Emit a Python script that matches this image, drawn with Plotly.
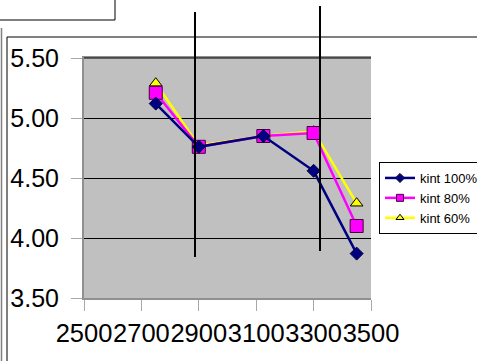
import plotly.graph_objects as go

x_vals = [2750, 2900, 3125, 3300, 3450]
kint100 = [5.12, 4.76, 4.85, 4.56, 3.87]
kint80 = [5.21, 4.76, 4.85, 4.875, 4.10]
kint60 = [5.29, 4.77, 4.85, 4.89, 4.29]

x_ticks = [2500, 2700, 2900, 3100, 3300, 3500]
y_ticks = [3.50, 4.00, 4.50, 5.00, 5.50]

FONT = "Liberation Sans, Arial, sans-serif"

series = [
    ("kint 60%", kint60, "#ffff00", "triangle-up", 11, "#000000"),
    ("kint 80%", kint80, "#ff00ff", "square", 13, "#400040"),
    ("kint 100%", kint100, "#000080", "diamond", 10, "#000040"),
]

fig = go.Figure()
for name, vals, col, sym, size, outline in series:
    fig.add_trace(go.Scatter(
        x=x_vals, y=vals, name=name, mode="lines+markers", showlegend=False,
        line=dict(color=col, width=2.5),
        marker=dict(symbol=sym, size=size, color=col, line=dict(color=outline, width=1)),
    ))
# legend-only entries with small symbols
for name, vals, col, sym, size, outline in series:
    fig.add_trace(go.Scatter(
        x=[None], y=[None], name=name, mode="lines+markers", showlegend=True,
        line=dict(color=col, width=2.5),
        marker=dict(symbol=sym, size=7, color=col, line=dict(color=outline, width=1)),
    ))

L, R, T, B = 84, 371, 58, 298
W, H = 477, 361


def px(xp):
    return (xp - L) / (R - L)


def py(yp):
    return (B - yp) / (B - T)


shapes = []
shapes.append(dict(type="line", xref="paper", yref="paper", x0=0, x1=1, y0=1, y1=1,
                   line=dict(color="black", width=1.2)))
shapes.append(dict(type="line", xref="paper", yref="paper", x0=px(195), x1=px(195),
                   y0=py(12), y1=py(257), line=dict(color="black", width=2)))
shapes.append(dict(type="line", xref="paper", yref="paper", x0=px(320), x1=px(320),
                   y0=py(6), y1=py(251), line=dict(color="black", width=2)))
shapes.append(dict(type="line", xref="paper", yref="paper", x0=px(-2), x1=px(115),
                   y0=py(20), y1=py(20), line=dict(color="black", width=1)))
shapes.append(dict(type="line", xref="paper", yref="paper", x0=px(115), x1=px(115),
                   y0=py(-2), y1=py(20), line=dict(color="black", width=1)))
shapes.append(dict(type="line", xref="paper", yref="paper", x0=px(7), x1=px(480),
                   y0=py(37), y1=py(37), line=dict(color="black", width=1)))
shapes.append(dict(type="line", xref="paper", yref="paper", x0=px(7), x1=px(7),
                   y0=py(37), y1=py(365), line=dict(color="black", width=1)))
shapes.append(dict(type="line", xref="paper", yref="paper", x0=px(1.5), x1=px(1.5),
                   y0=py(28), y1=py(365), line=dict(color="#808080", width=1.5)))

fig.update_layout(
    width=W, height=H,
    margin=dict(l=L, r=W - R, t=T, b=H - B, autoexpand=False),
    paper_bgcolor="white",
    plot_bgcolor="#c0c0c0",
    font=dict(family=FONT, color="black"),
    shapes=shapes,
    showlegend=True,
    legend=dict(
        x=px(379), y=py(162), xanchor="left", yanchor="top",
        bgcolor="white", bordercolor="black", borderwidth=1,
        font=dict(family=FONT, size=13, color="black"),
        traceorder="reversed",
        tracegroupgap=0,
    ),
    xaxis=dict(
        range=[2500, 3500], tickvals=x_ticks, ticktext=[str(v) for v in x_ticks],
        tickangle=0, showgrid=False, zeroline=False,
        showline=True, linecolor="#909090", linewidth=2, mirror=True,
        ticks="outside", ticklen=11, tickcolor="#a8a8a8", tickwidth=1,
        tickfont=dict(family=FONT, size=25.5, color="black"),
    ),
    yaxis=dict(
        range=[3.5, 5.5], tickvals=y_ticks, ticktext=[f"{v:.2f}" for v in y_ticks],
        showgrid=True, gridcolor="black", gridwidth=1, zeroline=False,
        showline=True, linecolor="#909090", linewidth=2,
        ticks="outside", ticklen=11, tickcolor="#a8a8a8", tickwidth=1,
        ticklabelstandoff=7,
        tickfont=dict(family=FONT, size=25, color="black"),
    ),
)

fig.write_html(
    "out.html",
    config={"displayModeBar": False},
    post_script="document.body.style.margin='0';document.body.style.overflow='hidden';",
)
